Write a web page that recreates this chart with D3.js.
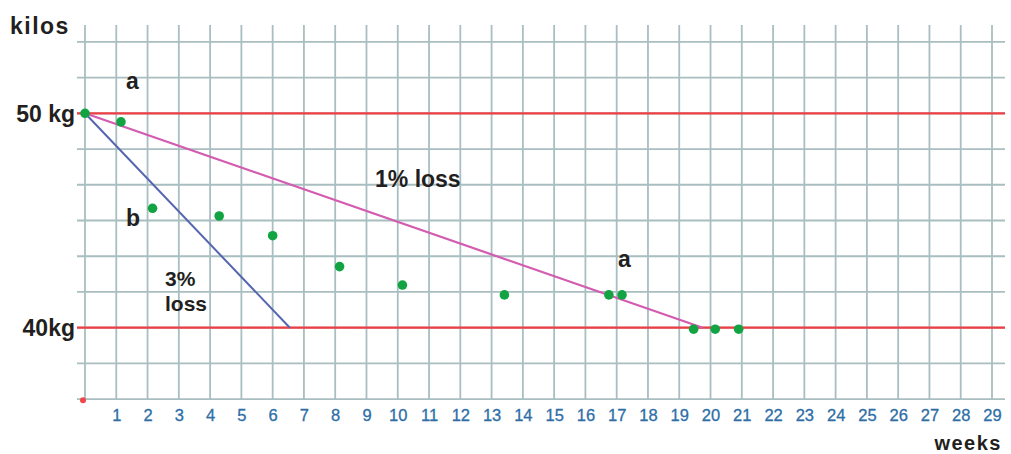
<!DOCTYPE html>
<html>
  <head>
    <meta charset="utf-8" />
    <title>Weight loss</title>
    <script src="https://d3js.org/d3.v7.min.js"></script>
    <style>
      body { margin: 0; background: #fff; }
      .lbl { font-family: "Liberation Sans", Arial, sans-serif; font-weight: bold; fill: #231f20; }
      .tick text { font-family: "Liberation Sans", Arial, sans-serif; fill: #2d6ea6; font-size: 16.5px; stroke: #2d6ea6; stroke-width: 0.3px; }
    </style>
  </head>
  <body>
    <svg width="1011" height="454" id="chart"></svg>

    <script>
    // weeks shown on the axis
    var weekTicks = d3.range(1, 30);

    // measured weights (week, kg)
    var weeks = [0, 1.15, 2.16, 4.29, 6.0, 8.14, 10.15, 13.41, 16.75, 17.17, 19.46, 20.15, 20.9];
    var kilos = [50, 49.6, 45.57, 45.21, 44.29, 42.85, 41.99, 41.53, 41.53, 41.53, 39.93, 39.93, 39.93];

    // target lines
    var targetKg = [50, 40];
    var targetLabels = ["50 kg", "40kg"];

    // loss-rate lines: start and end (week, kg)
    var oneLoss = [[0, 50], [19.75, 40]];
    var threeLoss = [[0, 50], [6.55, 40]];

    var svg = d3.select("#chart");

    var x = d3.scaleLinear().domain([0, 29]).range([85, 992]);
    var y = d3.scaleLinear().domain([40, 50]).range([327.7, 113.3]);

    // grid is 6 squares per 10 kg
    var step = 10 / 6;
    var bottomKg = 40 - 2 * step;
    var gridKg = d3.range(0, 11).map(function(k){ return bottomKg + k * step; });

    var grid = svg.append("g");
    grid.selectAll("line.v").data(d3.range(0, 30)).enter().append("line")
        .attr("x1", function(d){ return x(d); })
        .attr("x2", function(d){ return x(d); })
        .attr("y1", 25)
        .attr("y2", y(bottomKg))
        .style("stroke", "#a9bec0")
        .style("stroke-width", 1.8);

    grid.selectAll("line.h").data(gridKg).enter().append("line")
        .attr("x1", 77)
        .attr("x2", 1005)
        .attr("y1", function(d){ return y(d); })
        .attr("y2", function(d){ return y(d); })
        .style("stroke", "#a9bec0")
        .style("stroke-width", 1.8);

    // red target lines
    svg.selectAll("line.target").data(targetKg).enter().append("line")
        .attr("x1", 77)
        .attr("x2", 1005)
        .attr("y1", function(d){ return y(d); })
        .attr("y2", function(d){ return y(d); })
        .style("stroke", "#ee3e44")
        .style("stroke-width", 2.2);

    // x axis labels
    var axis = svg.append("g")
        .attr("transform", "translate(0," + y(bottomKg) + ")")
        .call(d3.axisBottom(x).tickValues(weekTicks).tickSize(0).tickPadding(10).tickFormat(d3.format("d")));
    axis.select(".domain").remove();

    svg.append("circle")
        .attr("cx", x(0) - 2).attr("cy", y(bottomKg) + 1)
        .attr("r", 3).style("fill", "#f0474a");

    // loss lines
    var line = d3.line()
        .x(function(d){ return x(d[0]); })
        .y(function(d){ return y(d[1]); });

    svg.append("path").datum(threeLoss)
        .attr("d", line)
        .style("fill", "none").style("stroke", "#5566b0").style("stroke-width", 2);

    svg.append("path").datum(oneLoss)
        .attr("d", line)
        .style("fill", "none").style("stroke", "#d35bb0").style("stroke-width", 2.2);

    // measurements
    svg.selectAll("circle.pt").data(weeks).enter().append("circle")
        .attr("cx", function(d){ return x(d); })
        .attr("cy", function(d, i){ return y(kilos[i]); })
        .attr("r", 4.8)
        .style("fill", "#12a343");

    // text
    function label(t, px, py, size, anchor, spacing) {
        return svg.append("text").attr("class", "lbl")
            .attr("x", px).attr("y", py)
            .attr("text-anchor", anchor || "start")
            .style("font-size", size + "px")
            .style("letter-spacing", (spacing || 0) + "px")
            .text(t);
    }
    label("kilos", 10, 34, 23, "start", 1.5);
    svg.selectAll("text.tk").data(targetKg).enter().append("text")
        .attr("class", "lbl")
        .attr("x", 75)
        .attr("y", function(d){ return y(d) + 8.5; })
        .attr("text-anchor", "end")
        .style("font-size", "23px")
        .text(function(d, i){ return targetLabels[i]; });
    label("a", 126, 89, 23);
    label("b", 126, 226, 23);
    label("1% loss", 375, 187, 23);
    label("3%", 165, 286, 21);
    label("loss", 165, 311, 21);
    label("a", 618, 267, 23);
    label("weeks", 1002, 450, 20, "end", 1.5);
    </script>
  </body>
</html>
